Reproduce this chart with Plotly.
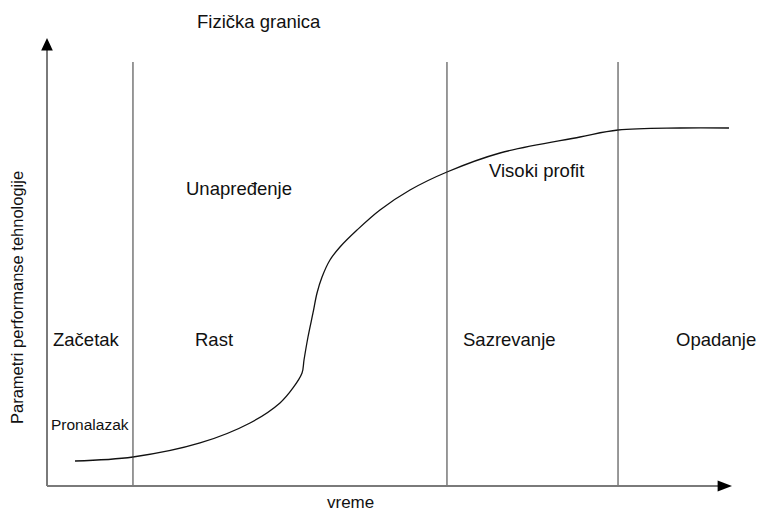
import plotly.graph_objects as go

# Technology S-curve: performance vs. time (relative units, 0-100)
curve_time = [4.09, 12.55, 22.34, 29.64, 34.01, 35.91, 37.23, 37.52, 38.10, 38.83,
              39.42, 40.15, 41.31, 42.77, 45.26, 48.61, 52.99, 58.39, 66.13, 77.81,
              83.36, 92.41, 99.56]
curve_perf = [5.58, 6.47, 9.60, 14.06, 18.53, 21.88, 25.22, 28.13, 33.26, 38.62,
              43.08, 46.65, 50.45, 53.35, 57.14, 61.61, 66.07, 70.09, 74.33, 77.90,
              79.46, 79.91, 79.91]

# Boundaries between life-cycle phases
phase_bounds = [12.55, 58.39, 83.36]
phase_top = 94.64

phase_labels = ["Začetak", "Rast", "Sazrevanje", "Opadanje"]
region_labels = ["Unapređenje", "Visoki profit"]
limit_label = "Fizička granica"
invention_label = "Pronalazak"
x_title = "vreme"
y_title = "Parametri performanse tehnologije"

W, H = 759, 513
# axis origin / arrow tips in page pixels
X0, Y0 = 47, 486
X_TIP, Y_TIP = 732, 38
SX = (X_TIP - X0) / 100.0
SY = (Y0 - Y_TIP) / 100.0
FONT = "Liberation Sans, Arial, sans-serif"


def px(xp, yp):
    """Pixel position -> paper coordinates."""
    return xp / W, (H - yp) / H


fig = go.Figure()

fig.add_trace(go.Scatter(
    x=curve_time, y=curve_perf, mode="lines",
    line=dict(color="#111111", width=1.3, shape="spline", smoothing=1.0),
    hoverinfo="skip", showlegend=False,
))

shapes = []
for xb in phase_bounds:
    shapes.append(dict(type="line", xref="x", yref="y", x0=xb, x1=xb, y0=0, y1=phase_top,
                       line=dict(color="#333333", width=1)))
# axes with arrowheads
shapes.append(dict(type="line", xref="x", yref="y", x0=0, x1=98, y0=0, y1=0,
                   line=dict(color="#7a7a7a", width=2)))
shapes.append(dict(type="line", xref="x", yref="y", x0=0, x1=0, y0=0, y1=97.5,
                   line=dict(color="#7a7a7a", width=2)))
shapes.append(dict(type="path", xref="x", yref="y",
                   path="M 0,100 L -0.85,97.2 L 0.85,97.2 Z",
                   fillcolor="black", line=dict(width=0)))
shapes.append(dict(type="path", xref="x", yref="y",
                   path="M 100,0 L 97.9,1.25 L 97.9,-1.25 Z",
                   fillcolor="black", line=dict(width=0)))

annotations = []


def label(text, xp, yp, size, angle=0):
    xx, yy = px(xp, yp)
    annotations.append(dict(text=text, x=xx, y=yy, xref="paper", yref="paper",
                            showarrow=False, xanchor="center", yanchor="middle",
                            textangle=angle,
                            font=dict(family=FONT, size=size, color="#111111")))


label(limit_label, 259, 21, 18.5)
label(region_labels[0], 239, 188, 18.5)
label(region_labels[1], 536, 170, 18.5)
for text, xp in zip(phase_labels, [86, 214, 509, 716]):
    label(text, xp, 339, 18.5)
label(invention_label, 90, 424, 15.5)
label(x_title, 350, 502, 17)
label(y_title, 17, 298, 16.5, angle=-90)

fig.update_layout(
    width=W, height=H,
    margin=dict(l=0, r=0, t=0, b=0, pad=0),
    paper_bgcolor="white", plot_bgcolor="white",
    xaxis=dict(range=[-X0 / SX, (W - X0) / SX], visible=False, fixedrange=True),
    yaxis=dict(range=[-(H - Y0) / SY, Y0 / SY], visible=False, fixedrange=True),
    shapes=shapes, annotations=annotations,
)

fig.write_html("out.html")
